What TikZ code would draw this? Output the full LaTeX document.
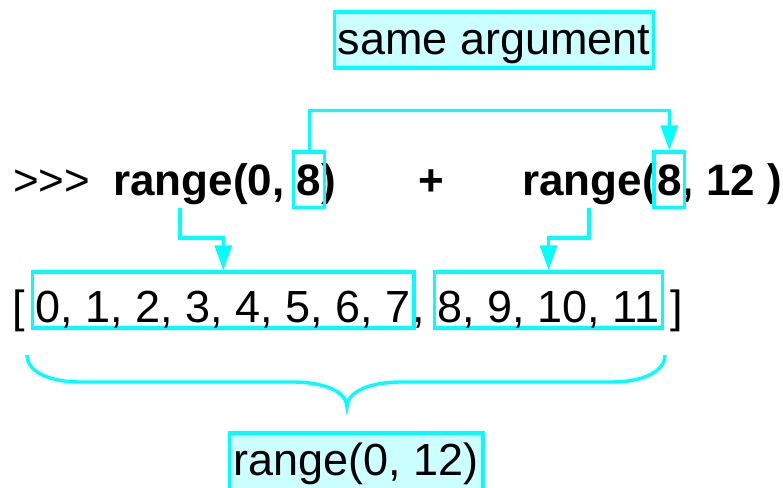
\documentclass[tikz,border=0pt]{standalone}
\usepackage{fontspec}
\setmainfont{Liberation Sans}
\usetikzlibrary{arrows.meta,fit,positioning}
\definecolor{hilite}{RGB}{0,255,255}
\definecolor{hilitefill}{RGB}{204,255,255}
\newcommand{\codesize}{\fontsize{44}{50}\selectfont}
\newcommand{\listsize}{\fontsize{45}{52}\selectfont}
\newcommand{\lw}{3.4pt}

\tikzset{
    txt/.style={inner sep=0pt, anchor=base west, font=\codesize},
    bold/.style={txt, font=\codesize\bfseries},
    listbox/.style={txt, font=\listsize, draw=hilite, line width=\lw, inner xsep=3pt, text height=50pt, text depth=6pt},
    labelbox/.style={listbox, fill=hilitefill},
    hlbox/.style={draw=hilite, line width=\lw, inner xsep=3pt, inner ysep=12pt},
    link/.style={hilite, line width=\lw, -{Triangle[length=25pt,width=17pt]}},
    brace/.style={hilite, line width=\lw},
}

\begin{document}
\begin{tikzpicture}[x=1pt, y=1pt]
    \useasboundingbox (0,0) rectangle (783,-487);
    \clip (0,0) rectangle (783,-487);

    %label on top
    \node[labelbox, text height=43pt, text depth=13pt] (same) at (333,-55) {same argument};

    %the command line
    \node[txt] (prompt) at (13,-195) {>{}>{}>};
    \node[bold] (rnga) at (113,-195) {range(0,~\null};
    \node[bold, base right=0pt of rnga] (eighta) {8};
    \node[bold, base right=0pt of eighta] (closea) {)};
    \node[bold] (plus) at (418,-195) {+};
    \node[bold] (rngb) at (522,-195) {range(};
    \node[bold, base right=0pt of rngb] (eightb) {8};
    \node[bold, base right=0pt of eightb] (restb) {, 12 )};
    \node[hlbox, fit=(eighta)] (hla) {};
    \node[hlbox, fit=(eightb)] (hlb) {};

    %the resulting list
    \node[txt, font=\listsize] (lbrack) at (12,-322) {[};
    \node[listbox] (lista) at (31,-322) {0, 1, 2, 3, 4, 5, 6, 7};
    \node[txt, font=\listsize] (comma) at (412,-322) {,};
    \node[listbox] (listb) at (433,-322) {8, 9, 10, 11};
    \node[txt, font=\listsize] (rbrack) at (670,-322) {]};

    %label at the bottom
    \node[labelbox, inner xsep=4pt, text height=42pt, text depth=16pt] (whole) at (228,-475) {range(0, 12)};

    %arrows
    \draw[link] (hla.north) -- ++(0,40) -| (hlb.north);
    \draw[link] ([shift={(67pt,-13pt)}]rnga.base west) -- ++(0,-30) -| (lista.north);
    \draw[link] ([shift={(67pt,-13pt)}]rngb.base west) -- ++(0,-30) -| (listb.north);

    %brace under the list
    \draw[brace] (27,-355) .. controls (27,-372) and (50,-382) .. (80,-382) -- (293,-382)
        .. controls (325,-382) and (347,-392) .. (347,-407)
        .. controls (347,-392) and (369,-382) .. (401,-382) -- (612,-382)
        .. controls (642,-382) and (665,-372) .. (665,-355);
\end{tikzpicture}
\end{document}
